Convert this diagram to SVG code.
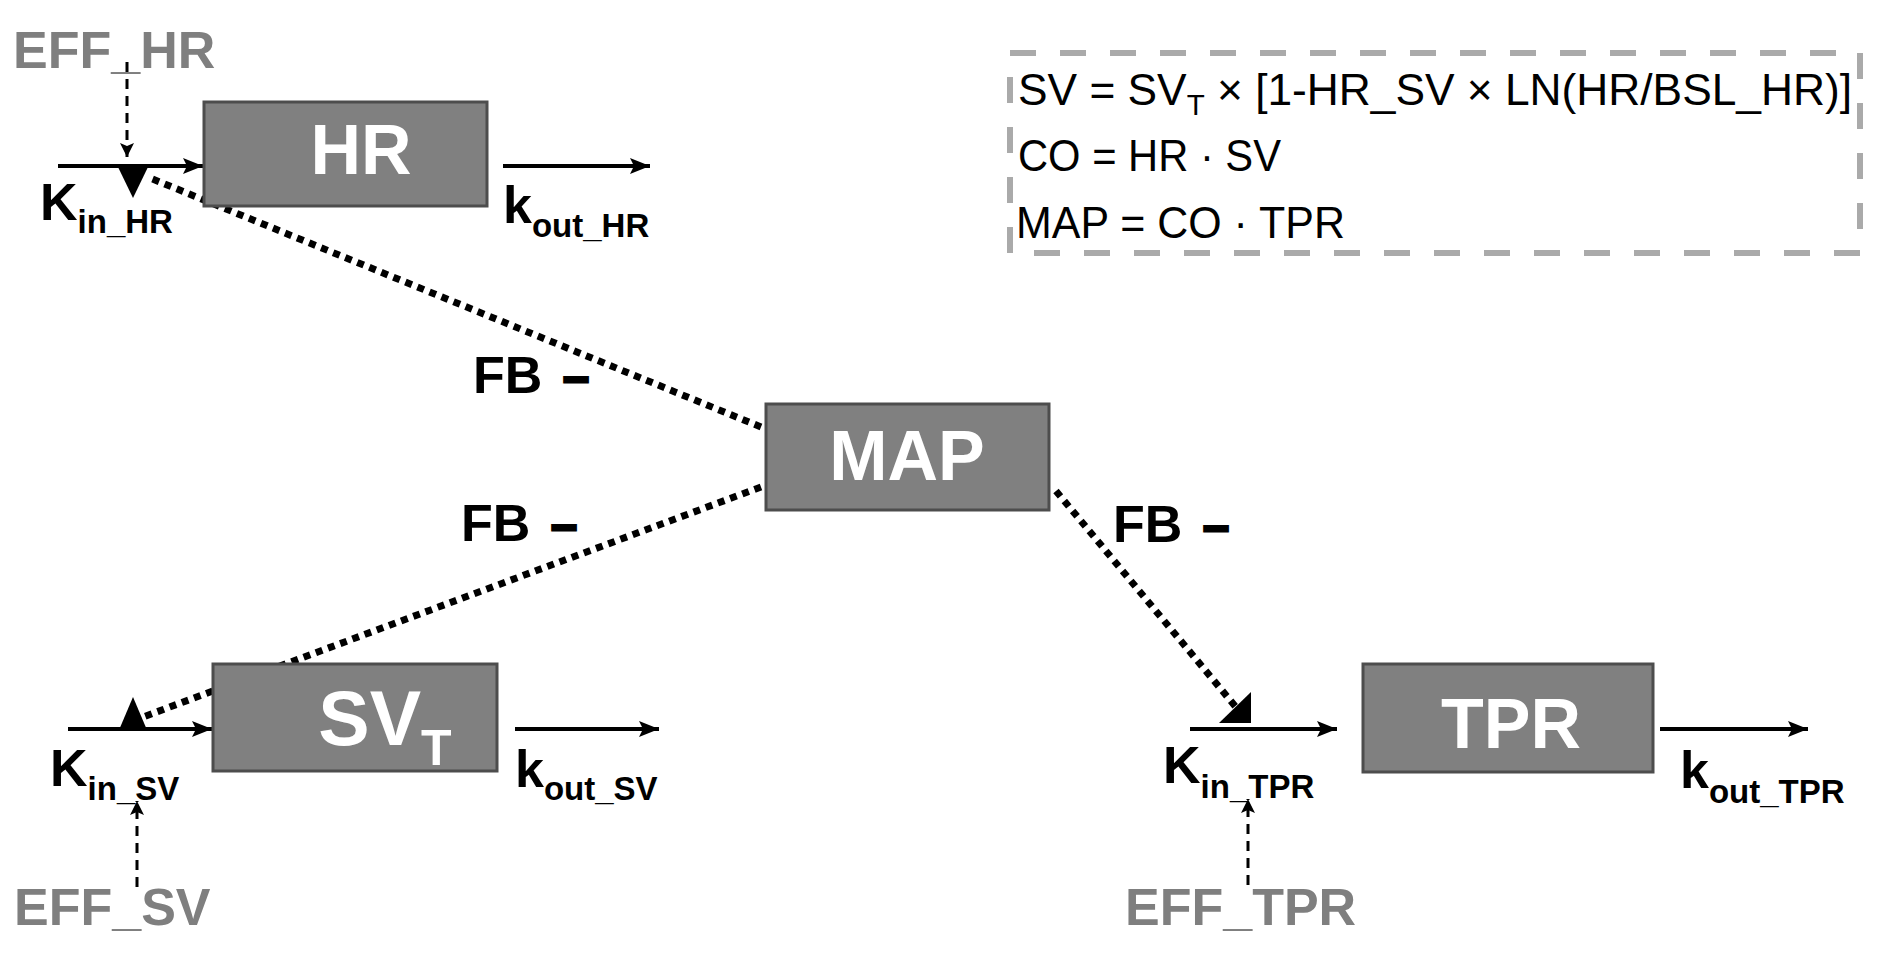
<svg xmlns="http://www.w3.org/2000/svg" width="1886" height="970" viewBox="0 0 1886 970">
<defs>
<style>
.box{fill:#808080;stroke:#4d4d4d;stroke-width:3}
.lbl{font-family:"Liberation Sans",Arial,sans-serif;font-weight:bold;fill:#fff;text-anchor:middle}
.k{font-family:"Liberation Sans",Arial,sans-serif;font-weight:bold;fill:#000;font-size:52px}
.sub{font-size:33px}
.eff{font-family:"Liberation Sans",Arial,sans-serif;font-weight:bold;fill:#7f7f7f;font-size:52px}
.fb{font-family:"Liberation Sans",Arial,sans-serif;font-weight:bold;fill:#000;font-size:52px}
.dash{font-size:46px;stroke:#000;stroke-width:3}
.eq{font-family:"Liberation Sans",Arial,sans-serif;fill:#000;font-size:45px}
.flow{stroke:#000;stroke-width:4;fill:none;marker-end:url(#ah)}
.eff-l{stroke:#000;stroke-width:3;fill:none;stroke-dasharray:10 7;marker-end:url(#ahs)}
.fbl{stroke:#000;stroke-width:7;fill:none;stroke-dasharray:7 6}
</style>
<marker id="ah" markerWidth="22" markerHeight="18" refX="20" refY="9" orient="auto" markerUnits="userSpaceOnUse"><path d="M0,1 L20,9 L0,17 L4,9 z" fill="#000"/></marker>
<marker id="ahs" markerWidth="16" markerHeight="16" refX="14" refY="8" orient="auto" markerUnits="userSpaceOnUse"><path d="M0,1 L14,8 L0,15 L3,8 z" fill="#000"/></marker>
</defs>
<rect width="1886" height="970" fill="#fff"/>

<g id="connectors">
<line class="flow" x1="58" y1="166" x2="203" y2="166"/>
<line class="flow" x1="503" y1="166" x2="650" y2="166"/>
<line class="flow" x1="68" y1="729" x2="212" y2="729"/>
<line class="flow" x1="515" y1="729" x2="659" y2="729"/>
<line class="flow" x1="1190" y1="729" x2="1337" y2="729"/>
<line class="flow" x1="1660" y1="729" x2="1808" y2="729"/>
<line class="eff-l" x1="127" y1="62" x2="127" y2="157"/>
<line class="eff-l" x1="137" y1="887" x2="137" y2="801"/>
<line class="eff-l" x1="1248" y1="885" x2="1248" y2="799"/>
<line class="fbl" x1="761" y1="427" x2="150" y2="178"/>
<line class="fbl" x1="761" y1="487" x2="143" y2="717"/>
<line class="fbl" x1="1056" y1="491" x2="1240" y2="712"/>
<polygon points="118,167 148,167 133,198" fill="#000"/>
<polygon points="119,730 147,730 133,697" fill="#000"/>
<polygon points="1219,723 1251,723 1251,692" fill="#000"/>
</g>

<g id="HR">
<rect class="box" x="204" y="102" width="283" height="104"/>
<text class="lbl" x="361" y="174" font-size="70">HR</text>
</g>
<g id="MAP">
<rect class="box" x="766" y="404" width="283" height="106"/>
<text class="lbl" x="907" y="480" font-size="70">MAP</text>
</g>
<g id="SVT">
<rect class="box" x="213" y="664" width="284" height="107"/>
<text class="lbl" x="385" y="745" font-size="77">SV<tspan font-size="50" dy="20">T</tspan></text>
</g>
<g id="TPR">
<rect class="box" x="1363" y="664" width="290" height="108"/>
<text class="lbl" x="1511" y="748" font-size="70">TPR</text>
</g>

<g id="rate-labels">
<text class="k" x="40" y="220">K<tspan class="sub" dy="13">in_HR</tspan></text>
<text class="k" x="503" y="223">k<tspan class="sub" dy="14">out_HR</tspan></text>
<text class="k" x="50" y="786">K<tspan class="sub" dy="14">in_SV</tspan></text>
<text class="k" x="515" y="787">k<tspan class="sub" dy="13">out_SV</tspan></text>
<text class="k" x="1163" y="783">K<tspan class="sub" dy="15">in_TPR</tspan></text>
<text class="k" x="1680" y="788">k<tspan class="sub" dy="15">out_TPR</tspan></text>
</g>

<g id="effects">
<text class="eff" x="13" y="68">EFF_HR</text>
<text class="eff" x="14" y="925">EFF_SV</text>
<text class="eff" x="1125" y="925">EFF_TPR</text>
</g>

<g id="feedback-labels">
<text class="fb" x="473" y="393">FB<tspan class="dash" dx="21" dy="-1">–</tspan></text>
<text class="fb" x="461" y="541">FB<tspan class="dash" dx="21" dy="-1">–</tspan></text>
<text class="fb" x="1113" y="542">FB<tspan class="dash" dx="21" dy="-1">–</tspan></text>
</g>

<g id="equations">
<rect x="1010" y="53" width="850" height="200" fill="none" stroke="#aaaaaa" stroke-width="6" stroke-dasharray="26 24"/>
<text class="eq" x="1018" y="105" textLength="834" lengthAdjust="spacingAndGlyphs">SV = SV<tspan font-size="30" dy="10">T</tspan><tspan dy="-10"> × [1-HR_SV × LN(HR/BSL_HR)]</tspan></text>
<text class="eq" x="1018" y="171" textLength="263" lengthAdjust="spacingAndGlyphs">CO = HR · SV</text>
<text class="eq" x="1016" y="238" textLength="329" lengthAdjust="spacingAndGlyphs">MAP = CO · TPR</text>
</g>
</svg>
